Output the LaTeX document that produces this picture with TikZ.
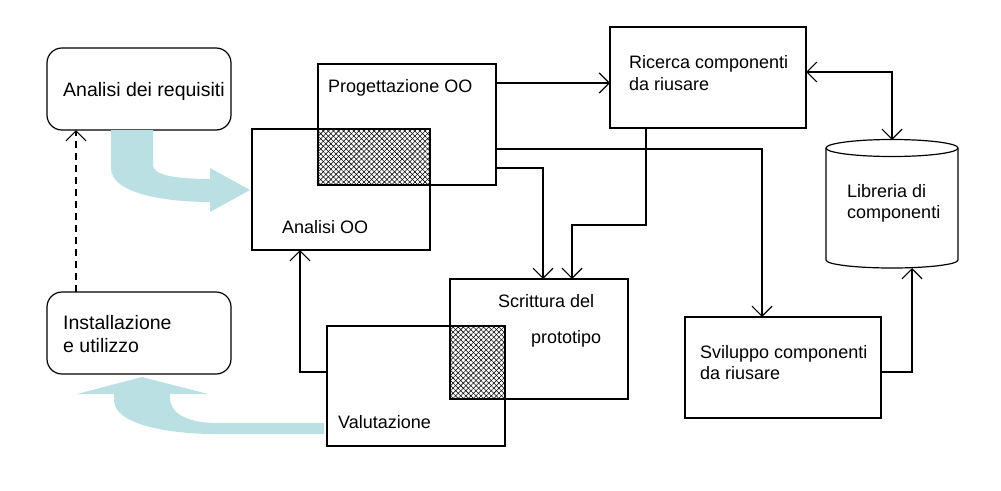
\documentclass[tikz,border=0pt]{standalone}
\usepackage{fontspec}
\setmainfont{Liberation Sans}
\usetikzlibrary{arrows.meta,patterns.meta}
\definecolor{flowblue}{RGB}{187,224,228}
\begin{document}
\begin{tikzpicture}[x=1pt,y=-1pt,
  box/.style={draw, line width=1.2pt, anchor=north west, inner sep=0pt, outer sep=0pt},
  rbox/.style={box, rounded corners=15pt},
  arr/.style={draw, line width=1.2pt, -{Straight Barb[length=10pt,width=20pt,line width=1.2pt]}},
  darr/.style={arr, {Straight Barb[length=10pt,width=20pt,line width=1.2pt]}-{Straight Barb[length=10pt,width=20pt,line width=1.2pt]}},
  txt/.style={anchor=base west, inner sep=0pt, font=\fontsize{18}{22}\selectfont},
  bigtxt/.style={txt, font=\fontsize{19.5}{23}\selectfont},
  hatchA/.style={pattern={Lines[angle=45,distance=3.6pt,line width=0.55pt]}},
  hatchB/.style={pattern={Lines[angle=-45,distance=3.6pt,line width=0.55pt]}},
  flow/.style={fill=flowblue, draw=none}]
\useasboundingbox (0,0) rectangle (1001,490);

% boxes
\node[rbox, minimum width=184pt, minimum height=82pt] (req) at (47,48) {};
\node[rbox, minimum width=184pt, minimum height=82pt] (inst) at (47,292) {};
\node[box, minimum width=178pt, minimum height=121pt] (ana) at (252,129) {};
\node[box, minimum width=178pt, minimum height=121pt] (prog) at (318,64) {};
\node[box, minimum width=196pt, minimum height=101pt] (ric) at (610,27) {};
\node[box, minimum width=178pt, minimum height=120pt] (scr) at (450,279) {};
\node[box, minimum width=178pt, minimum height=120pt] (val) at (327,326) {};
\node[box, minimum width=196pt, minimum height=101pt] (sv) at (685,317) {};
\node[anchor=north west, inner sep=0pt, outer sep=0pt, minimum width=132pt, minimum height=128pt] (lib) at (826,140) {};

% hatched overlaps
\path[hatchA] (prog.north west |- ana.north) rectangle (ana.east |- prog.south);
\path[hatchB] (prog.north west |- ana.north) rectangle (ana.east |- prog.south);
\path[hatchA] (scr.west |- val.north) rectangle (val.east |- scr.south);
\path[hatchB] (scr.west |- val.north) rectangle (val.east |- scr.south);

% cylinder
\draw[line width=1.2pt] ([yshift=-8pt]lib.north) ellipse [x radius=66pt, y radius=8.5pt];
\draw[line width=1.2pt] ([yshift=-8pt]lib.north west) -- ([yshift=8pt]lib.south west)
  arc[start angle=180, end angle=360, x radius=66pt, y radius=8pt] -- ([yshift=-8pt]lib.north east);

% texts
\node[bigtxt] (treq) at (63,96) {Analisi dei requisiti};
\node[bigtxt] (tinst1) at (63,329) {Installazione};
\node[bigtxt] (tinst2) at (63,352) {e utilizzo};
\node[txt] (tprog) at (328,92) {Progettazione OO};
\node[txt] (tana) at (282,233) {Analisi OO};
\node[txt] (tric1) at (629,68) {Ricerca componenti};
\node[txt] (tric2) at (629,90) {da riusare};
\node[txt] (tlib1) at (847,197) {Libreria di};
\node[txt] (tlib2) at (847,218) {componenti};
\node[txt] (tscr1) at (498,307) {Scrittura del};
\node[txt] (tscr2) at (531,343) {prototipo};
\node[txt] (tval) at (338,428) {Valutazione};
\node[txt] (tsv1) at (700,358) {Sviluppo componenti};
\node[txt] (tsv2) at (700,379) {da riusare};

% connectors
\coordinate (k1) at (646,225);
\draw[arr] ([yshift=-19pt]prog.north east) -- ([yshift=-19pt]prog.north east -| ric.west);
\draw[darr] ([yshift=-45pt]ric.north east) -| (lib.north);
\draw[arr] (ric.south -| k1) -- (k1) -| ([xshift=122pt]scr.north west);
\draw[arr] ([yshift=17pt]prog.south east) -| ([xshift=93pt]scr.north west);
\draw[arr] ([yshift=36pt]prog.south east) -| ([xshift=77pt]sv.north west);
\draw[arr] ([yshift=46pt]sv.south east) -| ([xshift=20pt]lib.south);
\draw[arr] ([yshift=-46pt]val.north west) -| ([xshift=48pt]ana.south west);
\draw[arr, dash pattern=on 7pt off 5pt, line width=1.1pt] ([xshift=29pt]inst.north west) -- ([xshift=29pt]req.south west);

% thick curved flow arrows
\path[flow] (111,130) -- (111,168) .. controls (111,195) and (170,202) .. (210,202)
  -- (210,212) -- (250,190) -- (210,168) -- (210,179)
  .. controls (175,179) and (153,175) .. (153,165) -- (153,130) -- cycle;
\path[flow] (324,423) -- (217,423) .. controls (185,423) and (170,412) .. (170,398)
  -- (170,394) -- (208,394) -- (142,377) -- (77,394) -- (114,394) -- (114,400)
  .. controls (114,425) and (170,434) .. (215,434) -- (324,434) -- cycle;
\end{tikzpicture}
\end{document}
